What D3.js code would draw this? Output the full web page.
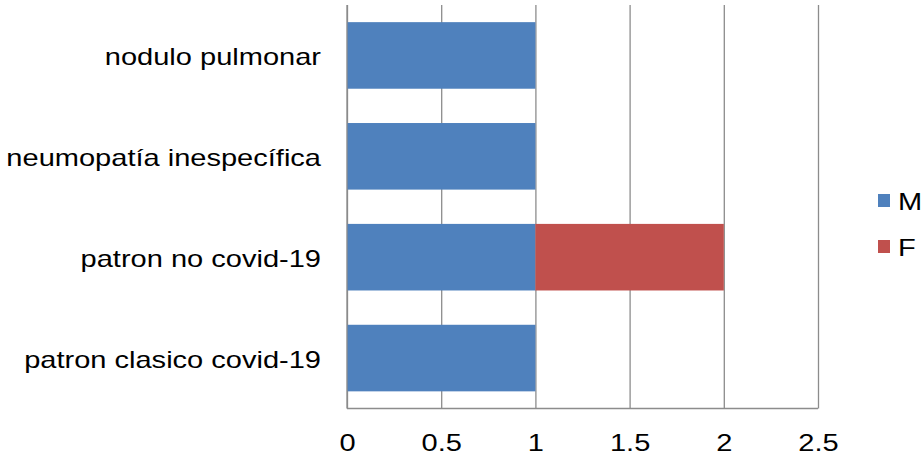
<!DOCTYPE html>
<html>
<head>
<meta charset="utf-8">
<script src="https://cdn.jsdelivr.net/npm/d3@7"></script>
<style>
  body { margin: 0; background: #fff; }
  text { font-family: "Liberation Sans", Arial, sans-serif; fill: #000; }
</style>
</head>
<body>
<svg id="chart" width="922" height="455"></svg>
<script>
"use strict";

// data, top to bottom as shown
const categories = ['nodulo pulmonar', 'neumopatía inespecífica', 'patron no covid-19', 'patron clasico covid-19'];
const valuesM = [1, 1, 1, 1];
const valuesF = [0, 0, 1, 0];
const seriesNames = ['M', 'F'];
const xTicks = [0, 0.5, 1, 1.5, 2, 2.5];

const palette = {M: '#4F81BD', F: '#C0504D'};
const stretch = 1.21;   // the reference text is a bit wide

const svg = d3.select('#chart');
const plotLeft = 347, plotRight = 818, plotTop = 5, plotBottom = 408.5;

const x = d3.scaleLinear().domain([0, 2.5]).range([plotLeft, plotRight]);
const y = d3.scaleBand()
            .domain(categories)
            .range([plotTop, plotBottom])
            .paddingInner(0.34)
            .paddingOuter(0.17);

/*-- gridlines + bottom labels ----------------------------------------------*/
const xAxis = svg.append('g')
                 .attr('transform', 'translate(0,' + plotBottom + ')')
                 .call(d3.axisBottom(x)
                         .tickValues(xTicks)
                         .tickSize(-(plotBottom - plotTop))
                         .tickPadding(0)
                         .tickFormat(d3.format('')));

xAxis.select('.domain').remove();
xAxis.selectAll('line')
     .attr('stroke', '#8c8c8c')
     .attr('stroke-width', 1.3);
xAxis.selectAll('text')
     .attr('y', 42.5)
     .attr('dy', null)
     .attr('transform', 'scale(' + stretch + ',1)')
     .style('font-size', '24px');

/*-- stacked bars ------------------------------------------------------------*/
const rows = categories.map(function(c, i){
    return {cat: c, M: valuesM[i], F: valuesF[i]};
});
const stacked = d3.stack().keys(seriesNames)(rows);

svg.append('g')
   .selectAll('g')
   .data(stacked)
   .enter()
   .append('g')
   .attr('fill', function(d){ return palette[d.key]; })
   .selectAll('rect')
   .data(function(d){ return d; })
   .enter()
   .append('rect')
   .attr('x', function(d){ return x(d[0]); })
   .attr('y', function(d){ return y(d.data.cat); })
   .attr('width', function(d){ return x(d[1]) - x(d[0]); })
   .attr('height', y.bandwidth());

/*-- axis lines --------------------------------------------------------------*/
svg.append('line')
   .attr('x1', plotLeft).attr('x2', plotLeft)
   .attr('y1', plotTop).attr('y2', plotBottom)
   .attr('stroke', '#8c8c8c').attr('stroke-width', 1.3);
svg.append('line')
   .attr('x1', plotLeft).attr('x2', plotRight)
   .attr('y1', plotBottom).attr('y2', plotBottom)
   .attr('stroke', '#8c8c8c').attr('stroke-width', 1.3);

/*-- category labels ---------------------------------------------------------*/
const yAxis = svg.append('g')
                 .attr('transform', 'translate(' + plotLeft + ',0)')
                 .call(d3.axisLeft(y).tickSize(0));
yAxis.select('.domain').remove();
yAxis.selectAll('text')
     .attr('x', -26 / stretch)
     .attr('dy', '9.5')
     .attr('transform', 'scale(' + stretch + ',1)')
     .style('font-size', '24px');

/*-- legend ------------------------------------------------------------------*/
const legend = svg.append('g')
                  .selectAll('g')
                  .data(seriesNames)
                  .enter()
                  .append('g')
                  .attr('transform', function(d, i){ return 'translate(878,' + (194 + i * 46) + ')'; });

legend.append('rect')
      .attr('width', 12)
      .attr('height', 13)
      .attr('fill', function(d){ return palette[d]; });

legend.append('text')
      .attr('transform', 'translate(20,15.5) scale(' + stretch + ',1)')
      .style('font-size', '24px')
      .text(function(d){ return d; });
</script>
</body>
</html>
